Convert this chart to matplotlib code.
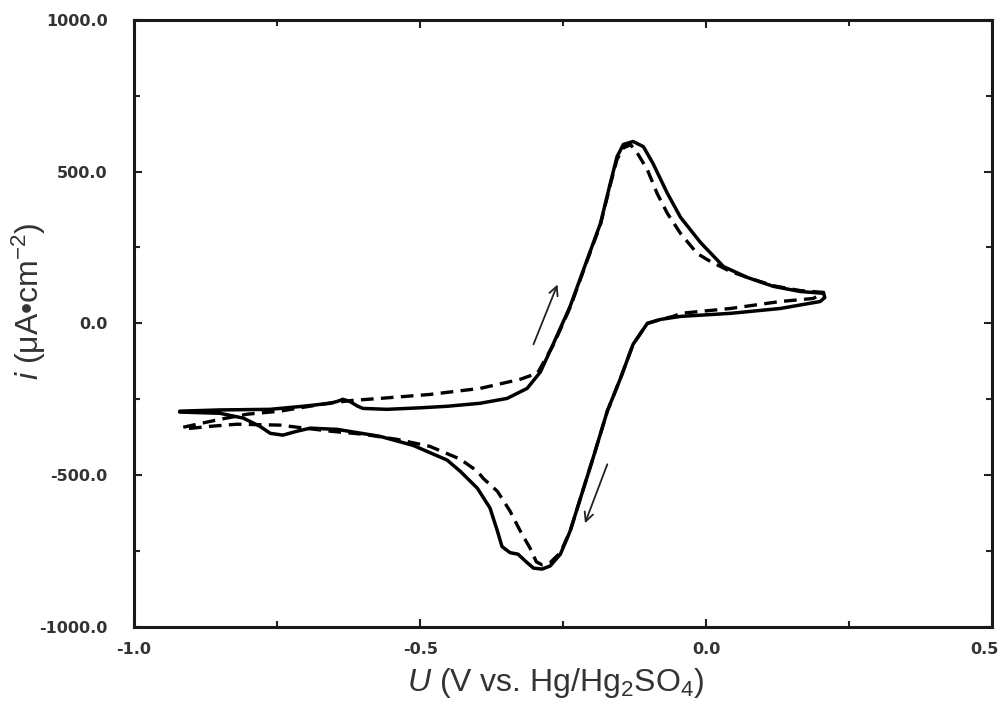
import matplotlib
matplotlib.use("Agg")
import matplotlib.pyplot as plt
import matplotlib.transforms as mtransforms
from matplotlib.ticker import MultipleLocator, FormatStrFormatter

plt.rcParams["mathtext.fontset"] = "custom"
plt.rcParams["mathtext.rm"] = "Liberation Sans"
plt.rcParams["mathtext.it"] = "Liberation Sans:italic"

# Solid curve (forward then reverse scan)
solid_u = [-0.920, -0.850, -0.762, -0.705, -0.657, -0.645, -0.635, -0.622, -0.610, -0.600,
           -0.558, -0.500, -0.453, -0.395, -0.348, -0.313, -0.290, -0.267, -0.238, -0.208,
           -0.185, -0.168, -0.156, -0.145, -0.128, -0.110, -0.093, -0.068, -0.045, -0.010,
           0.030, 0.072, 0.117, 0.164, 0.205, 0.207, 0.199,
           0.129, 0.042, -0.045, -0.080, -0.103, -0.128, -0.150, -0.173, -0.198, -0.220,
           -0.238, -0.255, -0.273, -0.287, -0.302, -0.316, -0.329, -0.343, -0.357, -0.365,
           -0.378, -0.400, -0.430, -0.453, -0.512, -0.570, -0.645, -0.692, -0.715, -0.740,
           -0.762, -0.780, -0.809, -0.850, -0.920]
solid_i = [-289, -285, -283, -273, -263, -257, -250, -258, -272, -280,
           -283, -278, -273, -263, -247, -214, -160, -66, 56, 211,
           329, 460, 549, 589, 599, 582, 526, 428, 349, 266,
           187, 151, 122, 105, 99, 85, 72,
           49, 33, 23, 13, 0, -69, -181, -289, -444, -576,
           -684, -760, -799, -809, -806, -783, -760, -755, -735, -684,
           -608, -543, -487, -450, -402, -372, -349, -345, -355, -368,
           -362, -339, -312, -296, -292]

# Dashed curve
dash_u = [-0.914, -0.880, -0.850, -0.802, -0.745, -0.700, -0.657, -0.620, -0.570, -0.483,
          -0.395, -0.325, -0.295, -0.267, -0.238, -0.208, -0.185, -0.168, -0.156, -0.145,
          -0.132, -0.119, -0.103, -0.086, -0.068, -0.045, -0.016, 0.007, 0.042, 0.072,
          0.117, 0.164, 0.205,
          0.187, 0.129, 0.042, -0.045, -0.058, -0.080, -0.103, -0.128, -0.150, -0.173,
          -0.198, -0.220, -0.238, -0.255, -0.273, -0.287, -0.297, -0.308, -0.325, -0.343,
          -0.365, -0.390, -0.400, -0.430, -0.483, -0.540, -0.600, -0.657, -0.745, -0.820,
          -0.867, -0.914]
dash_i = [-342, -328, -316, -299, -289, -275, -262, -254, -247, -234,
          -214, -184, -164, -70, 52, 208, 325, 455, 540, 578,
          588, 556, 506, 428, 362, 296, 230, 204, 171, 151,
          124, 108, 102,
          82, 72, 49, 33, 23, 13, 0, -69, -181, -289,
          -444, -576, -684, -755, -788, -795, -785, -740, -684, -618,
          -553, -510, -487, -447, -405, -382, -365, -355, -335, -332,
          -339, -348]

# Scan direction arrows (tail -> head)
arrow_up = ((-0.302, -69), (-0.260, 128))
arrow_down = ((-0.173, -464), (-0.212, -658))

xticks = [-1.0, -0.5, 0.0, 0.5]
yticks = [-1000, -500, 0, 500, 1000]

fig = plt.figure(figsize=(10.04, 7.03), dpi=100)
ax = fig.add_axes([0.1335, 0.108, 0.855, 0.864])

ax.plot(solid_u, solid_i, color="black", lw=2.5, solid_capstyle="round", solid_joinstyle="round")
ax.plot(dash_u, dash_i, color="black", lw=2.4, dashes=(3.8, 2.2), dash_joinstyle="round")

for (t, h) in (arrow_up, arrow_down):
    ax.annotate("", xy=h, xytext=t,
                arrowprops=dict(arrowstyle="->", color="#222222", lw=1.3,
                                mutation_scale=16, shrinkA=0, shrinkB=0))

ax.set_xlim(-1.0, 0.5)
ax.set_ylim(-1000, 1000)
ax.set_xticks(xticks)
ax.set_yticks(yticks)
ax.xaxis.set_minor_locator(MultipleLocator(0.25))
ax.yaxis.set_minor_locator(MultipleLocator(250))
ax.xaxis.set_major_formatter(FormatStrFormatter("%.1f"))
ax.yaxis.set_major_formatter(FormatStrFormatter("%.1f"))
ax.tick_params(which="both", direction="in", top=True, right=True, width=1.5, colors="#222222")
ax.tick_params(which="major", length=6)
ax.tick_params(which="minor", length=4)
ax.tick_params(axis="y", which="major", pad=19)
ax.tick_params(axis="x", which="major", pad=11)
for lab in ax.get_xticklabels() + ax.get_yticklabels():
    lab.set_fontweight("bold")
    lab.set_family("DejaVu Sans")
    lab.set_fontsize(11.5)
    lab.set_color("#333333")
# keep the last x tick label inside the figure
last = ax.get_xticklabels()[-1]
last.set_transform(last.get_transform() + mtransforms.ScaledTranslation(-8 / 100, 0, fig.dpi_scale_trans))
for s in ax.spines.values():
    s.set_linewidth(2.2)
    s.set_color("#1a1a1a")

fig.text(556 / 1004, 1 - 683 / 703, r"$\mathit{U}$ (V vs. Hg/Hg$_2$SO$_4$)", fontsize=23,
         family="Liberation Sans", color="#333333", ha="center", va="center")
fig.text(29 / 1004, 1 - 301 / 703, "$\\mathit{i}$ (\u03bcA\u2022cm$^{-2}$)", fontsize=23,
         family="Liberation Sans", color="#333333", ha="center", va="center", rotation=90)

fig.savefig("out.png", dpi=100)
